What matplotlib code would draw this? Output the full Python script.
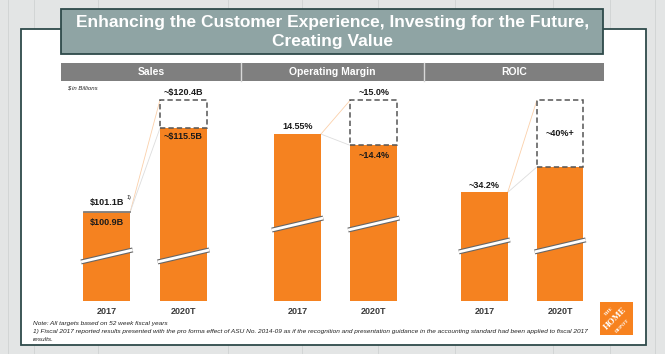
import matplotlib
matplotlib.use("Agg")
import matplotlib.pyplot as plt
from matplotlib.patches import Rectangle
from matplotlib.transforms import blended_transform_factory

plt.rcParams['font.family'] = ['Liberation Sans', 'DejaVu Sans']

# ---------------- data ----------------
years = ["2017", "2020T"]
panels = ["Sales", "Operating Margin", "ROIC"]

sales_actual = 100.9          # 2017 reported
sales_proforma = 101.1        # 2017 pro forma (ASU 2014-09)
sales_target_low = 115.5      # 2020T
sales_target_high = 120.4     # 2020T upper

opm_2017 = 14.55
opm_target_low = 14.4
opm_target_high = 15.0

roic_2017 = 34.2
roic_target_base = 35.8       # unlabeled base of 2020T bar (estimated)
roic_target_high = 40.0

sales_labels = ["$100.9B", "$101.1B", "~$115.5B", "~$120.4B"]
opm_labels = ["14.55%", "~14.4%", "~15.0%"]
roic_labels = ["~34.2%", "~40%+"]

W, H = 665, 354
fig = plt.figure(figsize=(W / 100, H / 100), dpi=100)

# ---------------- background decoration (pixel coords) ----------------
bg = fig.add_axes([0, 0, 1, 1])
bg.set_xlim(0, W)
bg.set_ylim(H, 0)
bg.axis("off")
bg.add_patch(Rectangle((0, 0), W, H, facecolor="#e3e5e5", edgecolor="none", zorder=0))
for xp in [8, 34, 98, 228, 302, 378, 455, 553, 610, 655]:
    bg.plot([xp, xp], [0, H], color="#cfd2d2", lw=0.6, zorder=0.5)
# white panel
bg.add_patch(Rectangle((20.7, 29.3), 625, 315.7, facecolor="white",
                       edgecolor="#2e4a4a", lw=1.3, zorder=1))
# title box
bg.add_patch(Rectangle((61.3, 9.3), 542, 44.7, facecolor="#8fa4a4",
                       edgecolor="#2e4a4a", lw=1.3, zorder=2))
bg.text(332.3, 22.5, "Enhancing the Customer Experience, Investing for the Future,",
        color="white", fontsize=12.5, fontweight="bold", ha="center", va="center", zorder=3)
bg.text(332.3, 41.5, "Creating Value",
        color="white", fontsize=12.5, fontweight="bold", ha="center", va="center", zorder=3)
# header bar
seg = [(60.7, 241.3), (241.3, 423.6), (423.6, 604.3)]
for (a, b), name in zip(seg, panels):
    bg.add_patch(Rectangle((a, 62.7), b - a, 18, facecolor="#7f7f7f",
                           edgecolor="none", zorder=2))
    bg.text((a + b) / 2, 71.8, name, color="white", fontsize=7.5,
            fontweight="bold", ha="center", va="center", zorder=3)
for xs in [241.3, 423.6]:
    bg.plot([xs, xs], [62.7, 80.7], color="#d8d8d8", lw=1.0, zorder=3)
bg.text(67.5, 88, "$ in Billions", fontsize=4.3, style="italic",
        color="#222222", ha="left", va="center", zorder=3)
# notes
note_kw = dict(fontsize=4.65, style="italic", color="#222222", va="center", zorder=3)
bg.text(33, 323.3, "Note: All targets based on 52 week fiscal years", **note_kw)
bg.text(33, 331, "1) Fiscal 2017 reported results presented with the pro forma effect of "
        "ASU No. 2014-09 as if the recognition and presentation guidance in the "
        "accounting standard had been applied to fiscal 2017", **note_kw)
bg.text(33, 339.3, "results.", **note_kw)
# logo
bg.add_patch(Rectangle((599.5, 302), 33, 33, facecolor="#f7821f", edgecolor="none", zorder=2))
for dx, dy, t, fs in [(-7, -7, "THE", 3.8), (0, 0, "HOME", 6.5), (7, 7, "DEPOT", 3.8)]:
    bg.text(616 + dx, 318.5 + dy, t, color="white", fontsize=fs,
            fontweight="bold", family="Liberation Serif", rotation=45,
            ha="center", va="center", zorder=3)

# ---------------- chart panels ----------------
ORANGE = "#f58220"
DASH = "#555555"
bottom_px, top_px = 300.7, 100.0
ax_b = (H - bottom_px) / H
ax_h = (bottom_px - top_px) / H

specs = [
    dict(seg=seg[0], xlim=(-0.603, 1.755), ylim=(85.6, 120.4), brk=0.223),
    dict(seg=seg[1], xlim=(-0.739, 1.655), ylim=(12.35, 15.0), brk=0.382),
    dict(seg=seg[2], xlim=(-0.803, 1.582), ylim=(27.4, 40.0), brk=0.273),
]
bw = 0.614
axes = []
for sp in specs:
    a, b = sp["seg"]
    ax = fig.add_axes([a / W, ax_b, (b - a) / W, ax_h])
    ax.set_xlim(*sp["xlim"])
    ax.set_ylim(*sp["ylim"])
    ax.axis("off")
    ax.patch.set_alpha(0)
    axes.append(ax)

x = [0, 1]
lbl_kw = dict(fontsize=6.5, fontweight="bold", ha="center", color="#1a1a1a")


def connectors(ax, y0, yhi, ylo):
    ax.plot([x[0] + bw / 2, x[1] - bw / 2], [y0, yhi], color="#fbd0aa", lw=0.6, zorder=1)
    ax.plot([x[0] + bw / 2, x[1] - bw / 2], [y0, ylo], color="#dddddd", lw=0.6, zorder=1)


def dashed(ax, xi, lo, hi):
    ax.add_patch(Rectangle((xi - bw / 2, lo), bw, hi - lo, facecolor="white",
                           edgecolor=DASH, lw=1.1, ls=(0, (3.5, 2)), zorder=3,
                           clip_on=False))


def brk(ax, frac):
    tr = blended_transform_factory(ax.transData, ax.transAxes)
    d = 6.0 / (bottom_px - top_px)
    for xi in x:
        xs = [xi - bw / 2 - 0.03, xi + bw / 2 + 0.03]
        ys = [frac - d, frac + d]
        ax.plot(xs, ys, color="#666666", lw=3.6, transform=tr, zorder=5,
                solid_capstyle="butt")
        ax.plot(xs, ys, color="white", lw=2.0, transform=tr, zorder=6,
                solid_capstyle="butt")


# Sales
ax = axes[0]
lo0 = specs[0]["ylim"][0]
ax.bar(x[0], sales_actual - lo0, bottom=lo0, width=bw, color=ORANGE, zorder=2)
ax.bar(x[0], sales_proforma - sales_actual, bottom=sales_actual, width=bw,
       color="#7f7f7f", edgecolor="#7f7f7f", lw=0.6, zorder=2)
ax.bar(x[1], sales_target_low - lo0, bottom=lo0, width=bw, color=ORANGE, zorder=2)
dashed(ax, x[1], sales_target_low, sales_target_high)
connectors(ax, sales_proforma, sales_target_high, sales_target_low)
ax.annotate(sales_labels[1], (x[0], sales_proforma), xytext=(0, 3),
            textcoords="offset points", va="bottom", **lbl_kw)
ax.annotate("1)", (x[0], sales_proforma), xytext=(14.5, 8.5),
            textcoords="offset points", va="bottom", fontsize=3.8,
            color="#1a1a1a", ha="left")
ax.annotate(sales_labels[0], (x[0], sales_actual), xytext=(0, -4),
            textcoords="offset points", va="top", **lbl_kw)
ax.annotate(sales_labels[2], (x[1], sales_target_low), xytext=(0, -3),
            textcoords="offset points", va="top", **lbl_kw)
ax.annotate(sales_labels[3], (x[1], sales_target_high), xytext=(0, 2),
            textcoords="offset points", va="bottom", **lbl_kw)
brk(ax, specs[0]["brk"])

# Operating margin
ax = axes[1]
lo1 = specs[1]["ylim"][0]
ax.bar(x[0], opm_2017 - lo1, bottom=lo1, width=bw, color=ORANGE, zorder=2)
ax.bar(x[1], opm_target_low - lo1, bottom=lo1, width=bw, color=ORANGE, zorder=2)
dashed(ax, x[1], opm_target_low, opm_target_high)
connectors(ax, opm_2017, opm_target_high, opm_target_low)
ax.annotate(opm_labels[0], (x[0], opm_2017), xytext=(0, 2),
            textcoords="offset points", va="bottom", **lbl_kw)
ax.annotate(opm_labels[1], (x[1], opm_target_low), xytext=(0, -4),
            textcoords="offset points", va="top", **lbl_kw)
ax.annotate(opm_labels[2], (x[1], opm_target_high), xytext=(0, 2),
            textcoords="offset points", va="bottom", **lbl_kw)
brk(ax, specs[1]["brk"])

# ROIC
ax = axes[2]
lo2 = specs[2]["ylim"][0]
ax.bar(x[0], roic_2017 - lo2, bottom=lo2, width=bw, color=ORANGE, zorder=2)
ax.bar(x[1], roic_target_base - lo2, bottom=lo2, width=bw, color=ORANGE, zorder=2)
dashed(ax, x[1], roic_target_base, roic_target_high)
connectors(ax, roic_2017, roic_target_high, roic_target_base)
ax.annotate(roic_labels[0], (x[0], roic_2017), xytext=(0, 2),
            textcoords="offset points", va="bottom", **lbl_kw)
ax.text(x[1], (roic_target_base + roic_target_high) / 2, roic_labels[1],
        va="center", zorder=4, **lbl_kw)
brk(ax, specs[2]["brk"])

# year labels
for ax in axes:
    for xi, yr in zip(x, years):
        ax.annotate(yr, (xi, ax.get_ylim()[0]), xytext=(0, -8),
                    textcoords="offset points", ha="center", va="center",
                    fontsize=6.5, fontweight="bold", color="#3a3a3a",
                    annotation_clip=False)

fig.savefig("out.png", dpi=100)
